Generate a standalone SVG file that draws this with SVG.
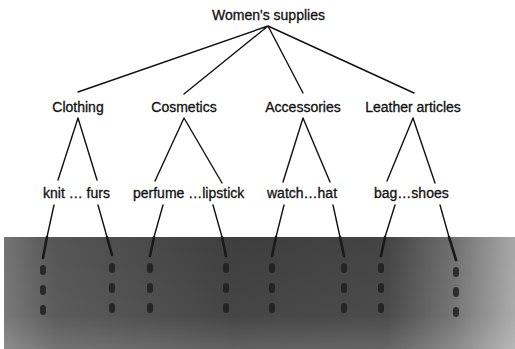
<svg xmlns="http://www.w3.org/2000/svg" width="515" height="349" viewBox="0 0 515 349">
<style>
text{font-family:"Liberation Sans",Arial,sans-serif;font-size:14px;fill:#111;stroke:#111;stroke-width:0.3}
.c{text-anchor:middle}
.ln{stroke:#111;stroke-width:1.4;fill:none;stroke-linecap:round}
.dk{stroke:#1a1a1a;stroke-width:2.6;fill:none;stroke-linecap:round}
.dt{stroke:#1c1c1c;stroke-width:6;fill:none;stroke-linecap:round;stroke-dasharray:4 16;opacity:0.8}
</style>
<defs>
<linearGradient id="gh" x1="0" y1="0" x2="1" y2="0">
<stop offset="0" stop-color="#747474"/>
<stop offset="0.1" stop-color="#555"/>
<stop offset="0.45" stop-color="#3e3e3e"/>
<stop offset="0.75" stop-color="#444"/>
<stop offset="0.88" stop-color="#707070"/>
<stop offset="1" stop-color="#a8a8a8"/>
</linearGradient>
<linearGradient id="gv" x1="0" y1="0" x2="0" y2="1">
<stop offset="0" stop-color="#fff" stop-opacity="0"/>
<stop offset="0.7" stop-color="#fff" stop-opacity="0.04"/>
<stop offset="1" stop-color="#fff" stop-opacity="0.18"/>
</linearGradient>
</defs>
<rect width="515" height="349" fill="#fff"/>
<g id="shade">
<rect x="4" y="237" width="511" height="112" fill="url(#gh)"/>
<rect x="4" y="237" width="511" height="112" fill="url(#gv)"/>
</g>
<g id="connectors">
<path class="ln" d="M268 26L78 92M268 26L184 94M268 26L303 93M268 26L414 93"/>
<path class="ln" d="M78 118L58 180M78 118L97 180M184 118L155 181M184 118L222 183M303 118L283 182M303 118L330 182M413 118L387 181M413 118L435 183"/>
<path class="ln" d="M54 205L47 237M98 205L107 237M163 205L154 237M213 205L222 237M284 205L276 237M333 205L340 237M395 205L385 237M440 205L449 237"/>
<path class="dk" d="M47 237L43 258M107 237L112 255M154 237L150 256M222 237L226 256M276 237L272 256M340 237L344 256M385 237L381 256M449 237L456 260"/>
<path class="dt" d="M43 268V322M112 266V322M150 266V322M226 266V322M272 266V322M344 266V322M381 266V322M456 270V322"/>
</g>
<g id="root"><text class="c" x="268.5" y="20">Women's supplies</text></g>
<g id="clothing"><text class="c" x="78" y="112">Clothing</text></g>
<g id="cosmetics"><text class="c" x="184" y="112">Cosmetics</text></g>
<g id="accessories"><text class="c" x="303" y="112">Accessories</text></g>
<g id="leather"><text class="c" x="413" y="112">Leather articles</text></g>
<g id="clothing-items"><text x="43" y="198">knit … furs</text></g>
<g id="cosmetics-items"><text x="133" y="198">perfume …lipstick</text></g>
<g id="accessories-items"><text x="267" y="198">watch…hat</text></g>
<g id="leather-items"><text x="374" y="198">bag…shoes</text></g>
</svg>
